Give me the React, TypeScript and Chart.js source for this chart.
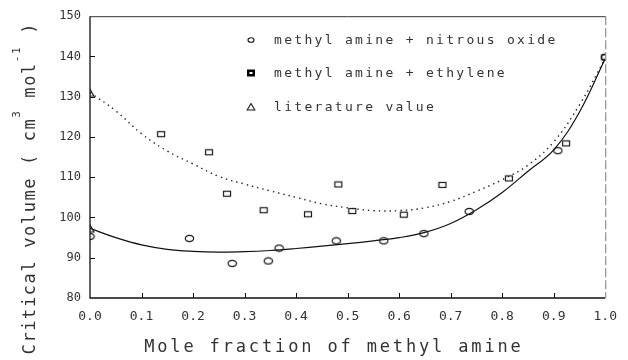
import React, { useEffect, useRef } from 'react';
import { Chart, registerables } from 'chart.js';

Chart.register(...registerables);

// ---- data ----
const circleX = [0, 0.193, 0.276, 0.346, 0.367, 0.478, 0.570, 0.648, 0.736, 0.908, 1.0];
const circleY = [95.3, 94.8, 88.6, 89.2, 92.4, 94.2, 94.2, 96.0, 101.5, 116.6, 139.8];

const squareX = [0.138, 0.231, 0.266, 0.337, 0.423, 0.482, 0.509, 0.609, 0.684, 0.813, 0.924, 1.0];
const squareY = [120.7, 116.2, 105.9, 101.8, 100.8, 108.2, 101.6, 100.7, 108.1, 109.7, 118.4, 139.8];

const triangleX = [0, 0];
const triangleY = [131.0, 97.3];

const curveX = [0, 0.05, 0.1, 0.15, 0.2, 0.25, 0.3, 0.35, 0.4, 0.45, 0.5, 0.55, 0.6, 0.65, 0.7, 0.75, 0.8, 0.85, 0.9, 0.95, 1.0];
const solidY = [97.3, 95.0, 93.2, 92.1, 91.6, 91.4, 91.5, 91.8, 92.3, 92.9, 93.5, 94.2, 95.0, 96.3, 98.5, 101.9, 106.2, 111.5, 116.8, 126.2, 139.5];
const dottedY = [131.0, 126.5, 120.8, 116.5, 113.3, 110.2, 108.3, 106.6, 105.0, 103.4, 102.4, 101.7, 101.7, 102.4, 104.0, 106.5, 109.4, 113.0, 118.8, 128.0, 139.5];

const xTickLabels = ['0.0', '0.1', '0.2', '0.3', '0.4', '0.5', '0.6', '0.7', '0.8', '0.9', '1.0'];
const yTickLabels = ['80', '90', '100', '110', '120', '130', '140', '150'];

const legendLabels = ['methyl amine + nitrous oxide', 'methyl amine + ethylene', 'literature value'];
const xTitle = 'Mole fraction of methyl amine';
const yTitleParts: [string, boolean][] = [
  ['Critical volume ( cm', false],
  ['3', true],
  [' mol', false],
  ['-1', true],
  [' )', false],
];

const MONO = '"DejaVu Sans Mono", "Liberation Mono", monospace';
const INK = '#333';

function makeImg(w: number, h: number, draw: (c: CanvasRenderingContext2D) => void) {
  const c = document.createElement('canvas');
  c.width = w;
  c.height = h;
  const ctx = c.getContext('2d')!;
  ctx.strokeStyle = '#1a1a1a';
  ctx.lineWidth = 1.2;
  draw(ctx);
  return c;
}

function spaced(ctx: CanvasRenderingContext2D, text: string, x: number, y: number, ls: number) {
  let cx = x;
  for (const ch of text) {
    ctx.fillText(ch, cx, y);
    cx += ctx.measureText(ch).width + ls;
  }
  return cx;
}
function spacedWidth(ctx: CanvasRenderingContext2D, text: string, ls: number) {
  let w = 0;
  for (const ch of text) w += ctx.measureText(ch).width + ls;
  return w;
}

export default function App() {
  const ref = useRef<HTMLCanvasElement>(null);

  useEffect(() => {
    document.body.style.margin = '0';
    const circleImg = makeImg(11, 9, (c) => {
      c.beginPath();
      c.ellipse(5.5, 4.5, 4.2, 3.2, 0, 0, Math.PI * 2);
      c.stroke();
    });
    const squareImg = makeImg(10, 8, (c) => {
      c.strokeRect(1.5, 1.5, 7, 5);
    });
    const triImg = makeImg(10, 9, (c) => {
      c.beginPath();
      c.moveTo(5, 1);
      c.lineTo(9, 8);
      c.lineTo(1, 8);
      c.closePath();
      c.stroke();
    });

    const pts = (xs: number[], ys: number[]) => xs.map((x, i) => ({ x, y: ys[i] }));

    const overlay = {
      id: 'overlay',
      afterDraw(chart: any) {
        const { ctx, chartArea: a, scales } = chart;
        const xs = scales.x;
        const ys = scales.y;
        ctx.save();
        // frame
        ctx.strokeStyle = '#111';
        ctx.lineWidth = 1.3;
        ctx.beginPath();
        ctx.moveTo(a.left, a.top);
        ctx.lineTo(a.left, a.bottom);
        ctx.lineTo(a.right, a.bottom);
        ctx.stroke();
        ctx.strokeStyle = '#333';
        ctx.lineWidth = 1;
        ctx.beginPath();
        ctx.moveTo(a.left, a.top + 0.5);
        ctx.lineTo(a.right, a.top + 0.5);
        ctx.stroke();
        ctx.strokeStyle = '#777';
        ctx.setLineDash([9, 3]);
        ctx.beginPath();
        ctx.moveTo(a.right + 0.5, a.top);
        ctx.lineTo(a.right + 0.5, a.bottom);
        ctx.stroke();
        ctx.setLineDash([]);
        // inward ticks
        ctx.strokeStyle = '#111';
        ctx.lineWidth = 1;
        ctx.beginPath();
        for (let i = 1; i < yTickLabels.length - 1; i++) {
          const py = Math.round(ys.getPixelForValue(Number(yTickLabels[i]))) + 0.5;
          ctx.moveTo(a.left, py);
          ctx.lineTo(a.left + 5, py);
        }
        for (let i = 1; i < xTickLabels.length - 1; i++) {
          const px = Math.round(xs.getPixelForValue(Number(xTickLabels[i]))) + 0.5;
          ctx.moveTo(px, a.bottom);
          ctx.lineTo(px, a.bottom - 5);
        }
        ctx.stroke();

        // legend
        const rows = [40, 73, 107];
        const mx = 251;
        ctx.strokeStyle = '#1a1a1a';
        ctx.lineWidth = 1.1;
        ctx.beginPath();
        ctx.ellipse(mx, rows[0], 3, 2.3, 0, 0, Math.PI * 2);
        ctx.stroke();
        ctx.fillStyle = '#000';
        ctx.fillRect(mx - 4, rows[1] - 3.5, 8, 7);
        ctx.fillStyle = '#fff';
        ctx.fillRect(mx - 1.5, rows[1] - 1, 3, 2);
        ctx.beginPath();
        ctx.moveTo(mx, rows[2] - 3.5);
        ctx.lineTo(mx + 3.8, rows[2] + 3);
        ctx.lineTo(mx - 3.8, rows[2] + 3);
        ctx.closePath();
        ctx.stroke();

        ctx.fillStyle = INK;
        ctx.font = `13px ${MONO}`;
        ctx.textBaseline = 'alphabetic';
        ctx.textAlign = 'left';
        legendLabels.forEach((t, i) => spaced(ctx, t, 274, rows[i] + 4, 2.3));

        // x title
        ctx.font = `17px ${MONO}`;
        const xw = spacedWidth(ctx, xTitle, 2.85) - 2.85;
        spaced(ctx, xTitle, 332.5 - xw / 2, 352, 2.85);

        // y title (rotated)
        ctx.translate(35, 189);
        ctx.rotate(-Math.PI / 2);
        const ls = 1.6;
        const normalFont = `17px ${MONO}`;
        const supFont = `11px ${MONO}`;
        let total = 0;
        yTitleParts.forEach(([t, sup]) => {
          ctx.font = sup ? supFont : normalFont;
          total += spacedWidth(ctx, t, ls);
        });
        total -= ls;
        let cx = -total / 2;
        yTitleParts.forEach(([t, sup]) => {
          ctx.font = sup ? supFont : normalFont;
          cx = spaced(ctx, t, cx, sup ? -15 : 0, ls);
        });
        ctx.restore();
      },
    };

    const chart = new Chart(ref.current!, {
      type: 'scatter',
      data: {
        datasets: [
          { data: pts(circleX, circleY), pointStyle: circleImg as any, pointRadius: 4, showLine: false },
          { data: pts(squareX, squareY), pointStyle: squareImg as any, pointRadius: 4, showLine: false },
          { data: pts(triangleX, triangleY), pointStyle: triImg as any, pointRadius: 4, showLine: false },
          {
            data: pts(curveX, solidY),
            showLine: true,
            borderColor: '#111',
            borderWidth: 1.2,
            pointRadius: 0,
            tension: 0.4,
          },
          {
            data: pts(curveX, dottedY),
            showLine: true,
            borderColor: '#222',
            borderWidth: 1.4,
            borderDash: [1.4, 4],
            pointRadius: 0,
            tension: 0.4,
          },
        ],
      },
      options: {
        animation: false,
        responsive: false,
        layout: { padding: { top: 15, right: 15, left: 0, bottom: 0 } },
        plugins: { legend: { display: false }, tooltip: { enabled: false } },
        scales: {
          x: {
            type: 'linear',
            min: 0,
            max: 1,
            grid: { display: false, drawTicks: false },
            border: { display: false },
            afterFit: (s: any) => {
              s.height = 62;
            },
            ticks: {
              stepSize: 0.1,
              padding: 11,
              color: INK,
              font: { family: MONO, size: 13 },
              callback: (v: any) => xTickLabels[Math.round(Number(v) * 10)] ?? '',
            },
          },
          y: {
            type: 'linear',
            min: 80,
            max: 150,
            grid: { display: false, drawTicks: false },
            border: { display: false },
            afterFit: (s: any) => {
              s.width = 90;
            },
            ticks: {
              stepSize: 10,
              padding: 9,
              color: INK,
              font: { family: MONO, size: 12 },
              callback: (v: any) => yTickLabels[Math.round((Number(v) - 80) / 10)] ?? '',
            },
          },
        },
      },
      plugins: [overlay],
    });
    return () => chart.destroy();
  }, []);

  return <canvas ref={ref} width={628} height={360} style={{ display: 'block', width: 628, height: 360 }} />;
}
